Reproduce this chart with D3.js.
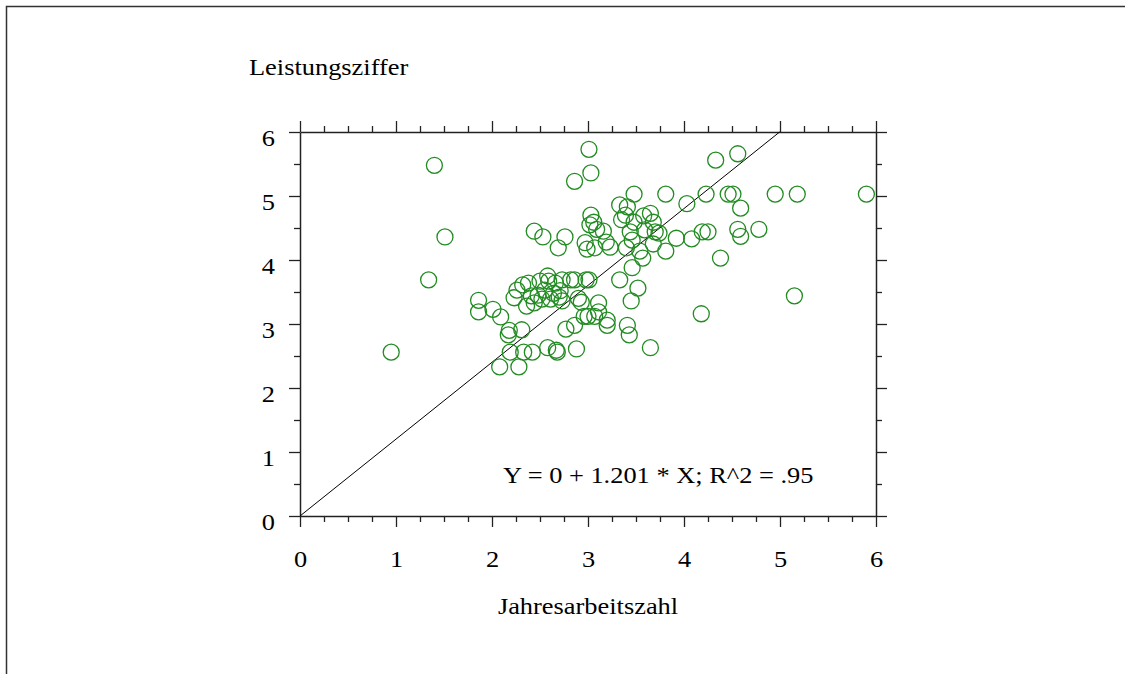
<!DOCTYPE html>
<html>
<head>
<meta charset="utf-8">
<script src="https://cdn.jsdelivr.net/npm/d3@7"></script>
<style>
  html, body { margin: 0; padding: 0; background: #fff; }
  svg { display: block; }
  text { font-family: "Liberation Serif", "Times New Roman", serif; fill: #000; }
</style>
</head>
<body>
<svg id="chart" width="1125" height="674"></svg>
<script>
// Jahresarbeitszahl (x) vs. Leistungsziffer (y), one entry per installation
const jaz = [
  0.95, 1.34, 1.40, 1.51,
  1.86, 1.86, 2.01, 2.08, 2.09, 2.28,
  2.19, 2.33, 2.42, 2.17, 2.18, 2.31,
  2.23, 2.26, 2.32, 2.38, 2.41, 2.36,
  2.44, 2.48, 2.52, 2.59, 2.55, 2.61, 2.64,
  2.44, 2.53, 2.69, 2.76, 2.58, 2.50, 2.66, 2.73, 2.82, 2.86,
  2.70, 2.71, 2.73, 2.77, 2.86, 2.68, 2.58, 2.67, 2.88,
  2.90, 2.93, 3.00, 2.96, 3.07, 3.11, 3.11, 3.20, 3.20, 2.98, 3.01,
  2.97, 3.02, 3.03, 3.06, 3.09, 3.07, 2.99, 3.16, 3.19, 3.23,
  3.33, 3.39, 3.35, 3.41, 3.44, 3.40, 3.48, 3.46, 3.58, 3.59, 3.54, 3.57,
  3.65, 3.68, 3.70, 3.68, 3.74, 3.46, 3.33, 3.52, 3.45, 3.41, 3.43,
  3.01, 3.03, 2.86, 4.33, 4.56, 5.90, 5.18, 4.95, 4.46, 4.51, 4.23, 3.48, 3.81,
  4.03, 4.59, 4.78, 4.56, 4.59, 4.25, 4.19, 4.08, 4.38, 5.15, 4.18, 3.65, 3.92, 3.81
];
const lz = [
  2.56, 3.69, 5.48, 4.36,
  3.37, 3.19, 3.23, 2.33, 3.11, 2.33,
  2.56, 2.56, 2.56, 2.83, 2.90, 2.91,
  3.41, 3.53, 3.61, 3.64, 3.44, 3.28,
  3.33, 3.45, 3.39, 3.67, 3.53, 3.39, 3.48,
  4.45, 4.36, 4.19, 4.36, 3.75, 3.67, 3.64, 3.69, 3.69, 3.69,
  3.42, 3.52, 3.36, 2.92, 2.98, 2.56, 2.63, 2.59, 2.61,
  3.40, 3.34, 3.12, 3.12, 3.12, 3.33, 3.19, 3.06, 2.98, 3.69, 3.69,
  4.27, 4.55, 4.70, 4.59, 4.48, 4.19, 4.17, 4.45, 4.28, 4.20,
  4.86, 4.70, 4.63, 4.83, 4.44, 4.19, 4.59, 4.31, 4.69, 4.47, 4.14, 4.03,
  4.73, 4.59, 4.44, 4.25, 4.42, 3.88, 3.69, 3.56, 3.36, 2.98, 2.83,
  5.73, 5.36, 5.23, 5.56, 5.66, 5.03, 5.03, 5.03, 5.03, 5.03, 5.03, 5.03, 5.03,
  4.88, 4.81, 4.48, 4.48, 4.37, 4.44, 4.44, 4.33, 4.03, 3.44, 3.16, 2.63, 4.34, 4.14
];

// axis ticks and fitted line
const majorTicks = [0, 1, 2, 3, 4, 5, 6];
const xMinorTicks = d3.range(0, 6.001, 0.25).filter(v => v % 1 !== 0);
const yMinorTicks = [0.5, 1.5, 2.5, 3.5, 4.5, 5.5];
const intercept = 0;
const slope = 1.201;
const rSquared = ".95";

const xTitle = "Jahresarbeitszahl";
const yTitle = "Leistungsziffer";
const fitLabel = `Y = ${intercept} + ${slope} * X; R^2 = ${rSquared}`;

const points = jaz.map((x, i) => ({ x, y: lz[i] }));

const svg = d3.select("#chart");
const plotLeft = 300, plotRight = 876, plotTop = 132, plotBottom = 516;
const x = d3.scaleLinear().domain([0, 6]).range([plotLeft, plotRight]);
const y = d3.scaleLinear().domain([0, 6]).range([plotBottom, plotTop]);

const ink = "#222";
const stretch = "scale(1.1,1)";

// outer frame (top and left edges)
svg.append("path")
  .attr("d", "M6.5,674 V6.5 H1125")
  .attr("fill", "none")
  .attr("stroke", "#333")
  .attr("stroke-width", 1.5);

// ticks on all four sides
function drawAxis(axisFn, scale, tx, ty, minors, withLabels) {
  const gMinor = svg.append("g").attr("transform", `translate(${tx},${ty})`)
    .call(axisFn(scale).tickValues(minors).tickSize(6).tickSizeOuter(0).tickFormat(""));
  gMinor.select(".domain").remove();
  const gMajor = svg.append("g").attr("transform", `translate(${tx},${ty})`)
    .call(axisFn(scale).tickValues(majorTicks).tickSize(11).tickSizeOuter(0)
      .tickFormat(withLabels ? d3.format("d") : ""));
  [gMinor, gMajor].forEach(g => {
    g.selectAll("line").attr("stroke", ink).attr("stroke-width", 1.3);
    g.selectAll(".domain").attr("stroke", ink).attr("stroke-width", 1.5);
  });
  return gMajor;
}

const gBottom = drawAxis(d3.axisBottom, x, 0, plotBottom, xMinorTicks, true);
gBottom.selectAll("text")
  .attr("x", null).attr("y", null).attr("dy", null)
  .attr("transform", `translate(0,51) ${stretch}`)
  .attr("font-size", 24).attr("fill", "#000")
  .attr("font-family", "Liberation Serif, Times New Roman, serif");

const gLeft = drawAxis(d3.axisLeft, y, plotLeft, 0, yMinorTicks, true);
gLeft.selectAll("text")
  .attr("x", null).attr("y", null).attr("dy", null)
  .attr("text-anchor", "end")
  .attr("transform", `translate(-25,13) ${stretch}`)
  .attr("font-size", 24).attr("fill", "#000")
  .attr("font-family", "Liberation Serif, Times New Roman, serif");

drawAxis(d3.axisTop, x, 0, plotTop, xMinorTicks, false);
drawAxis(d3.axisRight, y, plotRight, 0, yMinorTicks, false);

// fitted regression line, clipped to the plot box
const xEnd = Math.min(6, (6 - intercept) / slope);
svg.append("line")
  .attr("x1", x(0)).attr("y1", y(intercept))
  .attr("x2", x(xEnd)).attr("y2", y(intercept + slope * xEnd))
  .attr("stroke", "#000").attr("stroke-width", 1);

// data points
svg.append("g")
  .selectAll("circle")
  .data(points)
  .join("circle")
  .attr("cx", d => x(d.x))
  .attr("cy", d => y(d.y))
  .attr("r", 8)
  .attr("fill", "none")
  .attr("stroke", "#228b22")
  .attr("stroke-width", 1.3);

// titles and fit annotation
svg.append("text")
  .attr("transform", `translate(249,75) ${stretch}`)
  .attr("font-size", 24)
  .text(yTitle);

svg.append("text")
  .attr("transform", `translate(${(plotLeft + plotRight) / 2},614) ${stretch}`)
  .attr("text-anchor", "middle")
  .attr("font-size", 24)
  .text(xTitle);

svg.append("text")
  .attr("transform", `translate(503,483) ${stretch}`)
  .attr("font-size", 24)
  .text(fitLabel);
</script>
</body>
</html>
